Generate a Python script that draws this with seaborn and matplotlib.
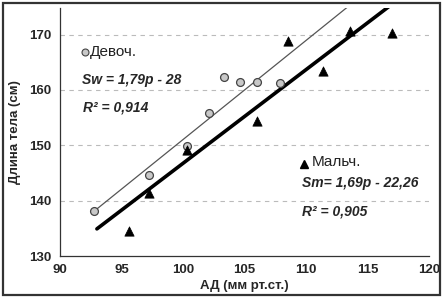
import pandas as pd
import seaborn as sns
import matplotlib.pyplot as plt
from matplotlib.patches import Rectangle

# === 1. Dados ===
girls_ad = [92.8, 97.2, 100.3, 102.1, 103.3, 104.6, 106.0, 107.9]
girls_len = [138.1, 144.6, 149.9, 155.9, 162.4, 161.5, 161.5, 161.3]

boys_ad = [95.6, 97.2, 100.3, 106.0, 108.5, 111.4, 113.6, 117.0]
boys_len = [134.5, 141.4, 149.2, 154.3, 168.8, 163.4, 170.6, 170.2]

# linhas de tendência (extremos)
girls_fit_x = [93.0, 113.5]
girls_fit_y = [138.5, 175.2]
boys_fit_x = [93.0, 117.0]
boys_fit_y = [134.9, 175.5]

x_ticks = [90, 95, 100, 105, 110, 115, 120]
y_ticks = [130, 140, 150, 160, 170]

df_g = pd.DataFrame({'ad': girls_ad, 'len': girls_len})
df_b = pd.DataFrame({'ad': boys_ad, 'len': boys_len})

# === 2. Gráfico ===
sns.set_style('white')
plt.rcParams['font.family'] = ['Liberation Sans', 'DejaVu Sans']

fig = plt.figure(figsize=(4.44, 2.98), dpi=100)
ax = fig.add_axes([60 / 444, 42 / 298, 369 / 444, 248 / 298])

for y in y_ticks[1:]:
    ax.axhline(y, color='#bbbbbb', lw=0.8, ls=(0, (4, 4)), zorder=0)

sns.lineplot(x=girls_fit_x, y=girls_fit_y, color='#555555', lw=0.9, ax=ax)
sns.lineplot(x=boys_fit_x, y=boys_fit_y, color='black', lw=2.6, ax=ax)

sns.scatterplot(data=df_g, x='ad', y='len', marker='o', s=32,
                color='#c8c8c8', edgecolor='#444444', linewidth=0.9, ax=ax, zorder=3)
sns.scatterplot(data=df_b, x='ad', y='len', marker='^', s=45,
                color='black', edgecolor='black', linewidth=0.5, ax=ax, zorder=3)

ax.set_xlim(90, 120)
ax.set_ylim(130, 174.8)
ax.set_xticks(x_ticks)
ax.set_yticks(y_ticks)
ax.tick_params(direction='in', length=3, width=0.8, labelsize=9.5, pad=6)
for lab in ax.get_xticklabels() + ax.get_yticklabels():
    lab.set_fontweight('bold')

for s in ['top', 'right']:
    ax.spines[s].set_visible(False)
for s in ['left', 'bottom']:
    ax.spines[s].set_color('#333333')
    ax.spines[s].set_linewidth(0.9)

ax.set_xlabel('АД (мм рт.ст.)', fontsize=9.5, fontweight='bold', labelpad=3)
ax.set_ylabel('Длина тела (см)', fontsize=9.5, fontweight='bold', labelpad=6)

# legendas / equações
ax.plot([92.0], [166.9], marker='o', ms=5, color='#c8c8c8', mec='#444444', mew=0.8,
        clip_on=False)
ax.text(92.45, 166.9, 'Девоч.', fontsize=11, va='center', color='#222222')
ax.text(91.8, 161.8, 'Sw = 1,79p - 28', fontsize=10, fontweight='bold', style='italic', va='center')
ax.text(91.9, 156.8, 'R² = 0,914', fontsize=10, fontweight='bold', style='italic', va='center')

ax.plot([109.85], [146.6], marker='^', ms=6, color='black', clip_on=False)
ax.text(110.45, 146.9, 'Мальч.', fontsize=11, va='center', color='#222222')
ax.text(109.7, 143.2, 'Sm= 1,69p - 22,26', fontsize=10, fontweight='bold', style='italic', va='center')
ax.text(109.7, 138.1, 'R² = 0,905', fontsize=10, fontweight='bold', style='italic', va='center')

# moldura externa
fig.patches.append(Rectangle((3 / 444, 3 / 298), 437 / 444, 292 / 298, transform=fig.transFigure,
                             fill=False, edgecolor='#333333', lw=1.6))

plt.savefig('out.png', dpi=100)
